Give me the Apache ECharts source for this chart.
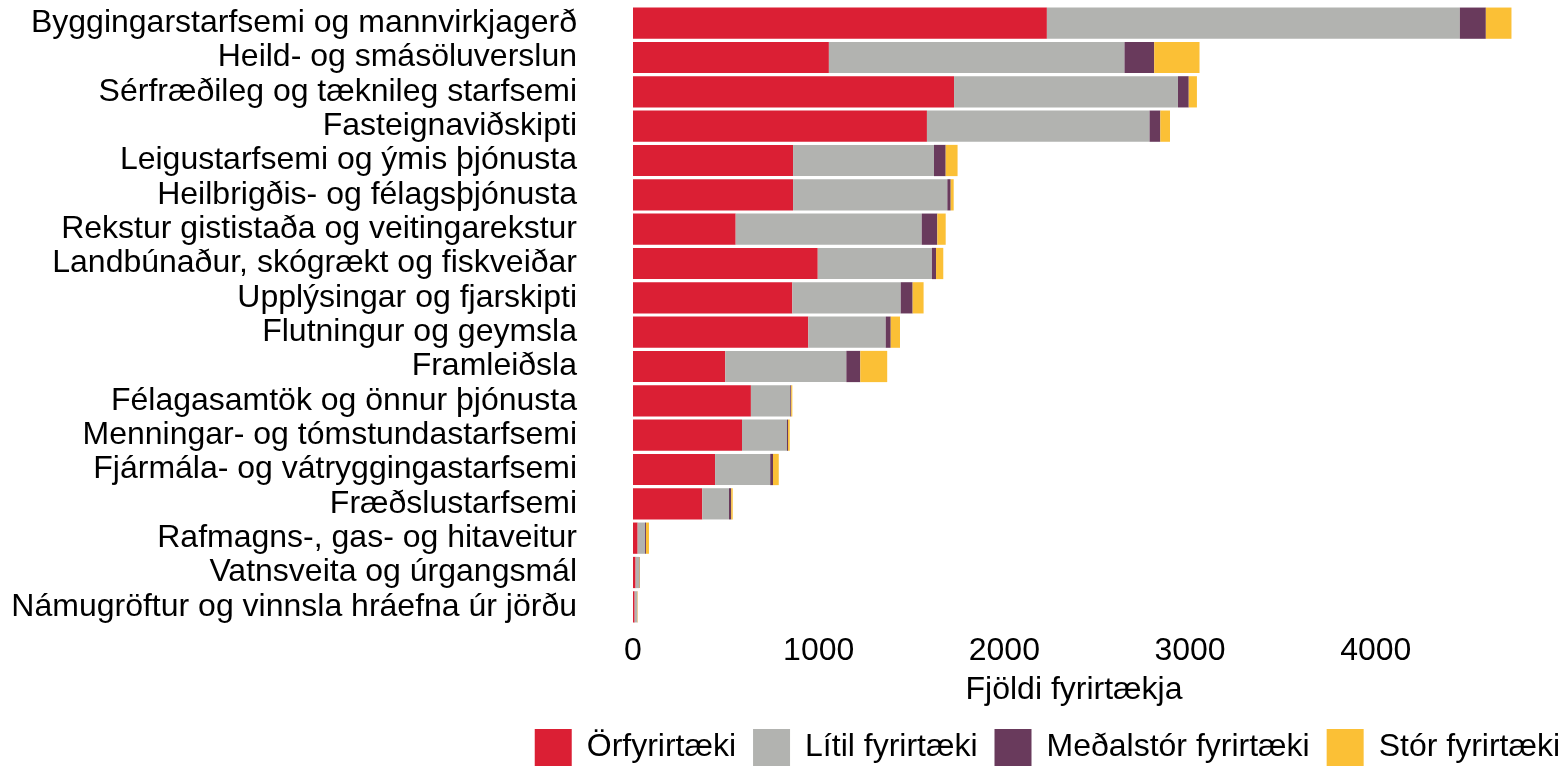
<!DOCTYPE html>
<html><head><meta charset="utf-8">
<script src="https://cdn.jsdelivr.net/npm/echarts@6/dist/echarts.min.js"></script>
<style>html,body{margin:0;padding:0;background:#fff}#c{width:1564px;height:766px}</style>
</head><body><div id="c"></div>
<script>
const categories = [
  "Byggingarstarfsemi og mannvirkjagerð",
  "Heild- og smásöluverslun",
  "Sérfræðileg og tæknileg starfsemi",
  "Fasteignaviðskipti",
  "Leigustarfsemi og ýmis þjónusta",
  "Heilbrigðis- og félagsþjónusta",
  "Rekstur gististaða og veitingarekstur",
  "Landbúnaður, skógrækt og fiskveiðar",
  "Upplýsingar og fjarskipti",
  "Flutningur og geymsla",
  "Framleiðsla",
  "Félagasamtök og önnur þjónusta",
  "Menningar- og tómstundastarfsemi",
  "Fjármála- og vátryggingastarfsemi",
  "Fræðslustarfsemi",
  "Rafmagns-, gas- og hitaveitur",
  "Vatnsveita og úrgangsmál",
  "Námugröftur og vinnsla hráefna úr jörðu"
];
const orfyrirtaeki = [2229, 1055, 1729, 1583, 862, 862, 553, 995, 858, 944, 497, 635, 587, 442, 373, 25, 14, 9];
const litil        = [2224, 1592, 1206, 1199, 759, 831, 1002, 615, 584, 417, 652, 212, 242, 297, 144, 40, 18, 13];
const medalstor    = [140, 160, 58, 58, 63, 18, 84, 22, 64, 27, 75, 5, 6, 15, 12, 5, 3, 1];
const stor         = [138, 244, 44, 52, 64, 16, 45, 39, 59, 50, 145, 6, 9, 31, 8, 16, 2, 2];
const seriesNames = ["Örfyrirtæki", "Lítil fyrirtæki", "Meðalstór fyrirtæki", "Stór fyrirtæki"];
const colors = ["#DB1F34", "#B2B3B0", "#693A5C", "#FBC036"];
const xTicks = [0, 1000, 2000, 3000, 4000];

const FONT = "Liberation Sans, Arial, sans-serif";
const FS = 32;
const chart = echarts.init(document.getElementById('c'));
const data = [orfyrirtaeki, litil, medalstor, stor];
chart.setOption({
  animation: false,
  color: colors,
  textStyle: { fontFamily: FONT },
  grid: { left: 633, right: 49, top: 6, bottom: 142, containLabel: false },
  legend: {
    right: 4, top: 729, padding: 0,
    itemWidth: 37, itemHeight: 37, itemGap: 17,
    icon: 'rect',
    textStyle: { fontSize: FS, color: '#000', fontFamily: FONT, padding: [0, 0, 0, 10] },
    data: seriesNames
  },
  xAxis: {
    type: 'value', min: 0, max: 4750, interval: 1000,
    axisLine: { show: false }, axisTick: { show: false }, splitLine: { show: false },
    axisLabel: { fontSize: FS, color: '#000', margin: 11, showMaxLabel: false,
      formatter: v => xTicks.includes(v) ? String(v) : '' },
    name: 'Fjöldi fyrirtækja', nameLocation: 'middle', nameGap: 50,
    nameTextStyle: { fontSize: FS, color: '#000', verticalAlign: 'top' }
  },
  yAxis: {
    type: 'category', data: categories, inverse: true,
    axisLine: { show: false }, axisTick: { show: false },
    axisLabel: { fontSize: FS, color: '#000', margin: 56, interval: 0 }
  },
  series: seriesNames.map((n, i) => ({
    name: n, type: 'bar', stack: 'total', data: data[i],
    barCategoryGap: '9%',
    itemStyle: { color: colors[i] }
  }))
});
</script></body></html>
